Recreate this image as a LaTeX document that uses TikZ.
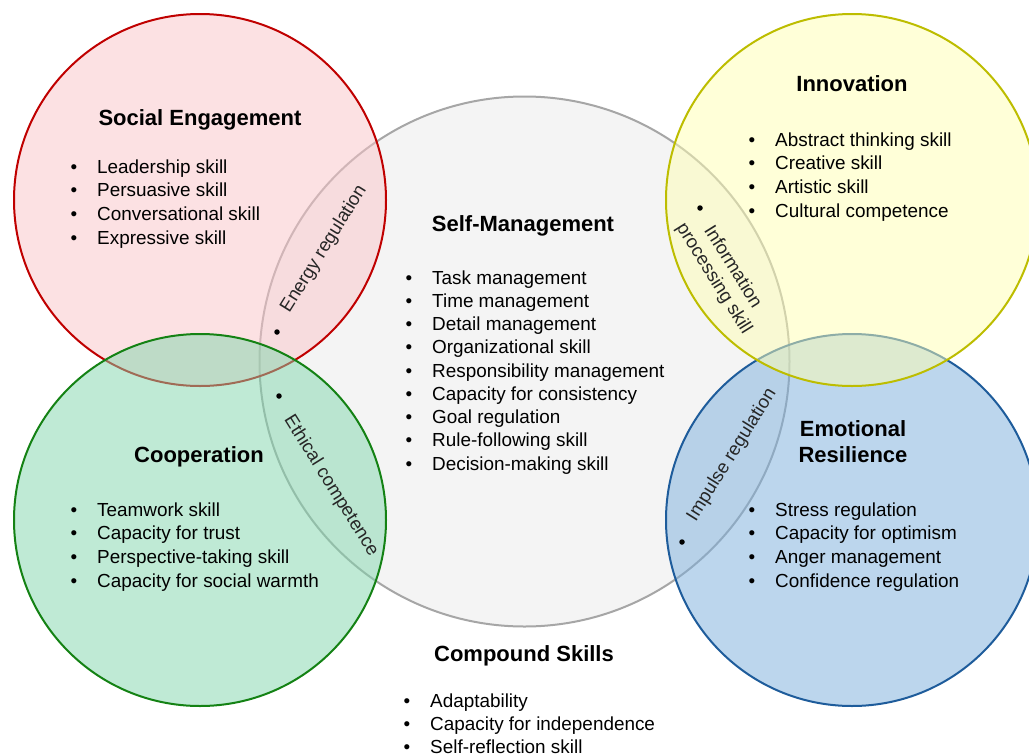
\documentclass[tikz,border=0pt]{standalone}
\usepackage{fontspec}
\setmainfont{Liberation Sans}
\definecolor{grayline}{RGB}{166,166,166}
\definecolor{grayfill}{RGB}{244,244,244}
\definecolor{redline}{RGB}{192,0,0}
\definecolor{redfill}{RGB}{251,197,201}
\definecolor{greenline}{RGB}{20,130,20}
\definecolor{greenfill}{RGB}{129,215,173}
\definecolor{yelline}{RGB}{189,189,0}
\definecolor{yelfill}{RGB}{255,255,179}
\definecolor{blueline}{RGB}{30,92,155}
\definecolor{bluefill}{RGB}{123,175,221}
\newcommand\bul{\llap{\textbullet\hspace{20pt}}}
\begin{document}
\begin{tikzpicture}[x=1pt,y=-1pt,
  body/.style={font=\fontsize{18.9}{23.5}\selectfont, inner sep=0pt, anchor=base west, text=black},
  head/.style={font=\fontsize{22}{26}\selectfont\bfseries, inner sep=0pt, anchor=base, text=black},
  rot/.style={font=\fontsize{18.6}{22}\selectfont, inner sep=0pt, align=center, text=black!85},
  bdot/.style={circle, fill=black, inner sep=0pt, minimum size=5.5pt},
  ring/.style={line width=2pt, fill opacity=0.5}]
\useasboundingbox (0,0) rectangle (1029,753);
\clip (0,0) rectangle (1029,753);
\fill[white] (0,0) rectangle (1029,753);
% circles
\draw[line width=2pt, draw=grayline, fill=grayfill] (524.5,361.5) circle[radius=265pt];
\draw[ring, draw=redline, fill=redfill] (200,200) circle[radius=186pt];
\draw[ring, draw=greenline, fill=greenfill] (200,520) circle[radius=186pt];
\draw[ring, draw=blueline, fill=bluefill] (852,520) circle[radius=186pt];
\draw[ring, draw=yelline, fill=yelfill] (852,200) circle[radius=186pt];
% headings
\node[head] (hse) at (200,125) {Social Engagement};
\node[head] (hsm) at (523,231) {Self-Management};
\node[head] (hin) at (852,91) {Innovation};
\node[head] (hco) at (199,462) {Cooperation};
\node[head] (her1) at (853,436) {Emotional};
\node[head] (her2) at (853,462) {Resilience};
\node[head] (hcs) at (524,661) {Compound Skills};
% lists
\foreach \t [count=\i from 0] in {Leadership skill, Persuasive skill, Conversational skill, Expressive skill}
  \node[body] (se\i) at (97,{173+23.67*\i}) {\bul\t};
\foreach \t [count=\i from 0] in {Task management, Time management, Detail management, Organizational skill, Responsibility management, Capacity for consistency, Goal regulation, Rule-following skill, Decision-making skill}
  \node[body] (sm\i) at (432,{284+23.25*\i}) {\bul\t};
\foreach \t [count=\i from 0] in {Abstract thinking skill, Creative skill, Artistic skill, Cultural competence}
  \node[body] (in\i) at (775,{146+23.67*\i}) {\bul\t};
\foreach \t [count=\i from 0] in {Teamwork skill, Capacity for trust, Perspective-taking skill, Capacity for social warmth}
  \node[body] (co\i) at (97,{516+23.67*\i}) {\bul\t};
\foreach \t [count=\i from 0] in {Stress regulation, Capacity for optimism, Anger management, Confidence regulation}
  \node[body] (er\i) at (775,{516+23.67*\i}) {\bul\t};
\foreach \t [count=\i from 0] in {Adaptability, Capacity for independence, Self-reflection skill}
  \node[body] (cs\i) at (430,{707+23.3*\i}) {\bul\t};
% overlap labels
\node[bdot] (d1) at (277,332) {};
\node[rot, rotate=58] (l1) at (324,249) {Energy regulation};
\node[bdot] (d2) at (279,396) {};
\node[rot, rotate=-58] (l2) at (331,486) {Ethical competence};
\node[bdot] (d3) at (700,208) {};
\node[rot, rotate=-58] (l3) at (723,273) {Information\\processing skill};
\node[bdot] (d4) at (682,542) {};
\node[rot, rotate=58] (l4) at (732,455) {Impulse regulation};
\end{tikzpicture}
\end{document}
